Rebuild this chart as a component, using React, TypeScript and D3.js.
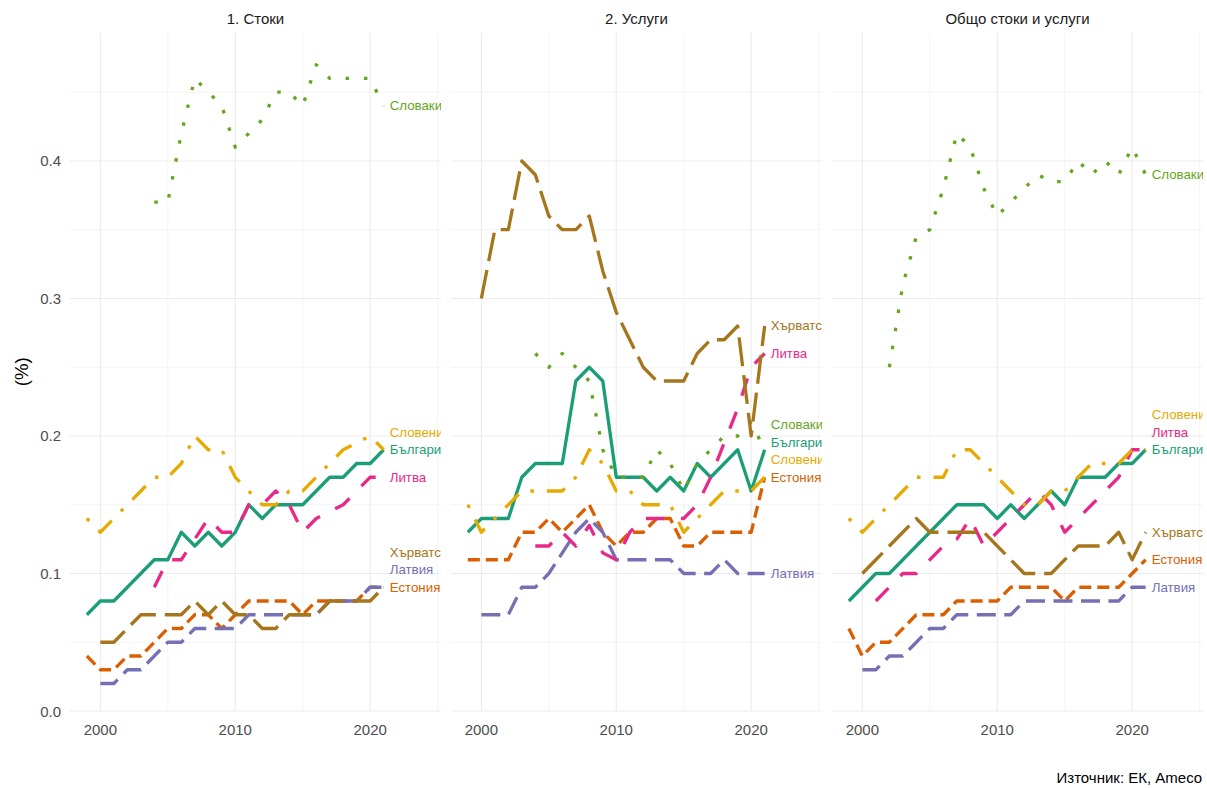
import React from 'react';
import * as d3 from 'd3';

// ---------- data ----------
const YEARS = [1999, 2000, 2001, 2002, 2003, 2004, 2005, 2006, 2007, 2008, 2009, 2010, 2011, 2012, 2013, 2014, 2015, 2016, 2017, 2018, 2019, 2020, 2021];
const PANELS = ['1. Стоки', '2. Услуги', 'Общо стоки и услуги'];
const COUNTRIES = ['България', 'Естония', 'Латвия', 'Литва', 'Словакия', 'Словения', 'Хърватска'];
const LABEL_TIE_ORDER = ['Словакия', 'Словения', 'Литва', 'Хърватска', 'Латвия', 'България', 'Естония'];
const X_TICKS = [2000, 2010, 2020];
const X_MINOR = [2005, 2015, 2025];
const Y_TICKS = [0, 0.1, 0.2, 0.3, 0.4];
const Y_MINOR = [0.05, 0.15, 0.25, 0.35, 0.45];
const Y_TITLE = '(%)';
const CAPTION = 'Източник: ЕК, Ameco';

const n = null;
// 1. Стоки
const GOODS_BG = [0.07, 0.08, 0.08, 0.09, 0.10, 0.11, 0.11, 0.13, 0.12, 0.13, 0.12, 0.13, 0.15, 0.14, 0.15, 0.15, 0.15, 0.16, 0.17, 0.17, 0.18, 0.18, 0.19];
const GOODS_EE = [0.04, 0.03, 0.03, 0.04, 0.04, 0.05, 0.06, 0.06, 0.07, 0.07, 0.06, 0.07, 0.08, 0.08, 0.08, 0.08, 0.07, 0.08, 0.08, 0.08, 0.08, 0.09, 0.09];
const GOODS_LV = [n, 0.02, 0.02, 0.03, 0.03, 0.04, 0.05, 0.05, 0.06, 0.06, 0.06, 0.06, 0.07, 0.07, 0.07, 0.07, 0.07, 0.07, 0.08, 0.08, 0.08, 0.09, 0.09];
const GOODS_LT = [n, n, n, n, n, 0.09, 0.11, 0.11, 0.125, 0.14, 0.13, 0.13, 0.15, 0.15, 0.16, 0.15, 0.13, 0.14, 0.145, 0.15, 0.16, 0.17, 0.17];
const GOODS_SK = [n, n, n, n, n, 0.37, 0.37, 0.42, 0.46, 0.45, 0.44, 0.41, 0.42, 0.43, 0.45, 0.45, 0.44, 0.47, 0.46, 0.46, 0.46, 0.46, 0.44];
const GOODS_SI = [0.14, 0.13, 0.14, 0.15, 0.16, 0.17, 0.17, 0.18, 0.20, 0.19, 0.19, 0.17, 0.16, 0.15, 0.15, 0.16, 0.16, 0.17, 0.18, 0.19, 0.195, 0.20, 0.19];
const GOODS_HR = [n, 0.05, 0.05, 0.06, 0.07, 0.07, 0.07, 0.07, 0.08, 0.07, 0.08, 0.07, 0.07, 0.06, 0.06, 0.07, 0.07, 0.07, 0.08, 0.08, 0.08, 0.08, 0.09];
// 2. Услуги
const SERV_BG = [0.13, 0.14, 0.14, 0.14, 0.17, 0.18, 0.18, 0.18, 0.24, 0.25, 0.24, 0.17, 0.17, 0.17, 0.16, 0.17, 0.16, 0.18, 0.17, 0.18, 0.19, 0.16, 0.19];
const SERV_EE = [0.11, 0.11, 0.11, 0.11, 0.13, 0.13, 0.14, 0.13, 0.14, 0.15, 0.13, 0.12, 0.13, 0.13, 0.14, 0.14, 0.12, 0.12, 0.13, 0.13, 0.13, 0.13, 0.17];
const SERV_LV = [n, 0.07, 0.07, 0.07, 0.09, 0.09, 0.10, 0.115, 0.13, 0.14, 0.13, 0.11, 0.11, 0.11, 0.11, 0.11, 0.10, 0.10, 0.10, 0.11, 0.10, 0.10, 0.10];
const SERV_LT = [n, n, n, n, n, 0.12, 0.12, 0.13, 0.12, 0.135, 0.115, 0.11, 0.13, 0.14, 0.14, 0.14, 0.14, 0.15, 0.17, 0.195, 0.22, 0.25, 0.26];
const SERV_SK = [n, n, n, n, n, 0.26, 0.25, 0.26, 0.25, 0.24, 0.19, 0.17, 0.17, 0.17, 0.19, 0.18, 0.16, 0.18, 0.19, 0.20, 0.20, 0.21, 0.19];
const SERV_SI = [0.15, 0.13, 0.14, 0.15, 0.16, 0.16, 0.16, 0.16, 0.17, 0.19, 0.18, 0.16, 0.16, 0.15, 0.15, 0.15, 0.13, 0.14, 0.15, 0.16, 0.16, 0.16, 0.17];
const SERV_HR = [n, 0.30, 0.35, 0.35, 0.40, 0.39, 0.36, 0.35, 0.35, 0.36, 0.32, 0.29, 0.27, 0.25, 0.24, 0.24, 0.24, 0.26, 0.27, 0.27, 0.28, 0.20, 0.28];
// Общо стоки и услуги
const TOTAL_BG = [0.08, 0.09, 0.10, 0.10, 0.11, 0.12, 0.13, 0.14, 0.15, 0.15, 0.15, 0.14, 0.15, 0.14, 0.15, 0.16, 0.15, 0.17, 0.17, 0.17, 0.18, 0.18, 0.19];
const TOTAL_EE = [0.06, 0.04, 0.05, 0.05, 0.06, 0.07, 0.07, 0.07, 0.08, 0.08, 0.08, 0.08, 0.09, 0.09, 0.09, 0.09, 0.08, 0.09, 0.09, 0.09, 0.09, 0.10, 0.11];
const TOTAL_LV = [n, 0.03, 0.03, 0.04, 0.04, 0.05, 0.06, 0.06, 0.07, 0.07, 0.07, 0.07, 0.07, 0.08, 0.08, 0.08, 0.08, 0.08, 0.08, 0.08, 0.08, 0.09, 0.09];
const TOTAL_LT = [n, n, 0.08, 0.09, 0.10, 0.10, 0.11, 0.12, 0.125, 0.14, 0.12, 0.13, 0.14, 0.15, 0.16, 0.15, 0.13, 0.14, 0.15, 0.16, 0.17, 0.19, 0.19];
const TOTAL_SK = [n, n, n, 0.25, 0.31, 0.345, 0.35, 0.38, 0.42, 0.41, 0.38, 0.36, 0.37, 0.38, 0.39, 0.385, 0.385, 0.40, 0.39, 0.40, 0.39, 0.41, 0.39];
const TOTAL_SI = [0.14, 0.13, 0.14, 0.15, 0.16, 0.17, 0.17, 0.17, 0.19, 0.19, 0.18, 0.17, 0.16, 0.15, 0.15, 0.16, 0.16, 0.17, 0.18, 0.18, 0.18, 0.19, 0.19];
const TOTAL_HR = [n, 0.10, 0.11, 0.12, 0.13, 0.14, 0.13, 0.13, 0.13, 0.13, 0.13, 0.12, 0.11, 0.10, 0.10, 0.10, 0.11, 0.12, 0.12, 0.12, 0.13, 0.11, 0.13];

const PANEL_DATA: (number | null)[][][] = [
  [GOODS_BG, GOODS_EE, GOODS_LV, GOODS_LT, GOODS_SK, GOODS_SI, GOODS_HR],
  [SERV_BG, SERV_EE, SERV_LV, SERV_LT, SERV_SK, SERV_SI, SERV_HR],
  [TOTAL_BG, TOTAL_EE, TOTAL_LV, TOTAL_LT, TOTAL_SK, TOTAL_SI, TOTAL_HR],
];

// ---------- styles ----------
const COLORS = ['#1B9E77', '#D95F02', '#7570B3', '#E7298A', '#66A61E', '#E6AB02', '#A6761D'];
const DASHES = ['none', '12,6', '19,8.5', '18,17', '3.5,14.8', '3.5,13,19,13', '29,9'];
const FONT = '"Liberation Sans", Arial, Helvetica, sans-serif';

const W = 1207;
const H = 788;
const PANEL_LEFTS = [70, 451, 832];
const PANEL_W = 371;
const PANEL_TOP = 32.4;
const PANEL_BOTTOM = 711;
const X_DOMAIN = [1997.75, 2025.25];
const Y_DOMAIN = [0, 0.4935];
const LABEL_GAP = 17.5;
const LABEL_DX = 6;

export default function App() {
  const y = d3.scaleLinear().domain(Y_DOMAIN).range([PANEL_BOTTOM, PANEL_TOP]);

  return (
    <svg width={W} height={H} style={{ position: 'absolute', left: 0, top: 0, background: '#fff' }} fontFamily={FONT}>
      <defs>
        {PANEL_LEFTS.map((l, i) => (
          <clipPath id={`clip${i}`} key={i}>
            <rect x={l} y={PANEL_TOP} width={PANEL_W} height={PANEL_BOTTOM - PANEL_TOP} />
          </clipPath>
        ))}
      </defs>
      <rect x={0} y={0} width={W} height={H} fill="#fff" />
      {PANELS.map((title, pi) => {
        const left = PANEL_LEFTS[pi];
        const x = d3.scaleLinear().domain(X_DOMAIN).range([left, left + PANEL_W]);
        const line = d3
          .line<{ yr: number; v: number | null }>()
          .defined((d) => d.v !== null)
          .x((d) => x(d.yr))
          .y((d) => y(d.v as number));
        const series = PANEL_DATA[pi].map((vals, ci) => ({
          name: COUNTRIES[ci],
          ci,
          pts: YEARS.map((yr, k) => ({ yr, v: vals[k] })),
        }));
        // labels with simple upward repel
        const labs = series.map((s) => {
          const last = s.pts.filter((p) => p.v !== null).slice(-1)[0];
          return { name: s.name, ci: s.ci, x: x(last.yr) + LABEL_DX, y0: y(last.v as number), y: 0 };
        });
        labs.sort((a, b) => {
          if (Math.abs(b.y0 - a.y0) > 0.01) return b.y0 - a.y0;
          return LABEL_TIE_ORDER.indexOf(b.name) - LABEL_TIE_ORDER.indexOf(a.name);
        });
        let cur = Infinity;
        labs.forEach((lb) => {
          lb.y = Math.min(lb.y0, cur - LABEL_GAP);
          cur = lb.y;
        });
        return (
          <g key={pi}>
            {/* grid */}
            {Y_MINOR.map((t) => (
              <line key={'ym' + t} x1={left} x2={left + PANEL_W} y1={y(t)} y2={y(t)} stroke="#EBEBEB" strokeWidth={0.55} />
            ))}
            {X_MINOR.map((t) => (
              <line key={'xm' + t} x1={x(t)} x2={x(t)} y1={PANEL_TOP} y2={PANEL_BOTTOM} stroke="#EBEBEB" strokeWidth={0.55} />
            ))}
            {Y_TICKS.map((t) => (
              <line key={'y' + t} x1={left} x2={left + PANEL_W} y1={y(t)} y2={y(t)} stroke="#EBEBEB" strokeWidth={1.1} />
            ))}
            {X_TICKS.map((t) => (
              <line key={'x' + t} x1={x(t)} x2={x(t)} y1={PANEL_TOP} y2={PANEL_BOTTOM} stroke="#EBEBEB" strokeWidth={1.1} />
            ))}
            {/* x tick labels */}
            {X_TICKS.map((t) => (
              <text key={'xl' + t} x={x(t)} y={735} textAnchor="middle" fontSize={15} fill="#4D4D4D">
                {t}
              </text>
            ))}
            {/* strip title */}
            <text x={left + PANEL_W / 2} y={23.5} textAnchor="middle" fontSize={15} fill="#1A1A1A">
              {title}
            </text>
            {/* lines */}
            {series.map((s) => (
              <path
                key={s.name}
                d={line(s.pts) || ''}
                fill="none"
                stroke={COLORS[s.ci]}
                strokeWidth={3.3}
                strokeDasharray={DASHES[s.ci]}
                strokeLinejoin="round"
                strokeLinecap="butt"
              />
            ))}
            {/* labels */}
            <g clipPath={`url(#clip${pi})`}>
              {labs.map((lb) => (
                <text key={lb.name} x={lb.x} y={lb.y} dominantBaseline="central" fontSize={13.3} fill={COLORS[lb.ci]}>
                  {lb.name}
                </text>
              ))}
            </g>
          </g>
        );
      })}
      {/* y tick labels */}
      {Y_TICKS.map((t) => (
        <text key={'yl' + t} x={61} y={y(t)} textAnchor="end" dominantBaseline="central" fontSize={15} fill="#4D4D4D">
          {d3.format('.1f')(t)}
        </text>
      ))}
      {/* y title */}
      <text
        transform={`translate(21,${(PANEL_TOP + PANEL_BOTTOM) / 2}) rotate(-90)`}
        textAnchor="middle"
        dominantBaseline="central"
        fontSize={18.7}
        fill="#000"
      >
        {Y_TITLE}
      </text>
      {/* caption */}
      <text x={1202} y={783} textAnchor="end" fontSize={15} fill="#000">
        {CAPTION}
      </text>
    </svg>
  );
}
